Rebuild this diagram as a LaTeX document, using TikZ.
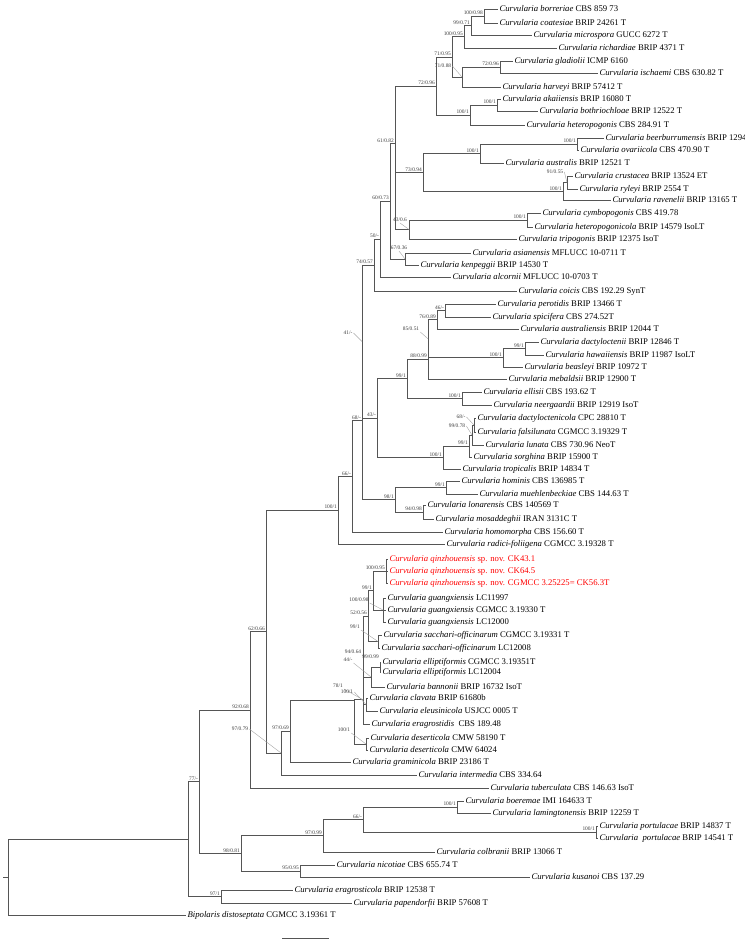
\documentclass[tikz,border=0pt]{standalone}
\usepackage{fontspec}
\setmainfont{Liberation Serif}
\tikzset{every picture/.style={line width=0.75pt}}
\tikzset{
  branch/.style={draw={rgb, 255:red, 85; green, 85; blue, 85}, line width=0.7pt},
  leader/.style={draw={rgb, 255:red, 165; green, 165; blue, 165}, line width=0.4pt},
  leaf/.style={anchor=west, inner sep=1.2pt, font=\fontsize{8.7}{10}\selectfont},
  newsp/.style={leaf, text={rgb, 255:red, 255; green, 0; blue, 0}},
  sup/.style={anchor=south east, inner sep=0.8pt, font=\fontsize{5.4}{5.4}\selectfont, text={rgb, 255:red, 60; green, 60; blue, 60}},
  suplead/.style={sup, anchor=center},
}

\begin{document}
\begin{tikzpicture}[x=1pt,y=1pt,yscale=-1,xscale=1]
\useasboundingbox (0,0) rectangle (744,944);

% Internal nodes
\coordinate (n1) at (484,16);
\coordinate (n2) at (471,25.5);
\coordinate (n3) at (464,36.75);
\coordinate (n4) at (500,67);
\coordinate (n5) at (462,77);
\coordinate (n6) at (452,56.9);
\coordinate (n7) at (497,105);
\coordinate (n8) at (470,115);
\coordinate (n9) at (436,85.9);
\coordinate (n10) at (577,144);
\coordinate (n11) at (480,153.5);
\coordinate (n12) at (567,182.5);
\coordinate (n13) at (563,191.25);
\coordinate (n14) at (423,172.4);
\coordinate (n15) at (527,220);
\coordinate (n16) at (409,229.5);
\coordinate (n17) at (395,201);
\coordinate (n18) at (395,143.4);
\coordinate (n19) at (405,259);
\coordinate (n20) at (390,201.2);
\coordinate (n21) at (380,239.1);
\coordinate (n22) at (374,265);
\coordinate (n23) at (445,310.5);
\coordinate (n24) at (437,319.75);
\coordinate (n25) at (525,348.5);
\coordinate (n26) at (503,357.75);
\coordinate (n27) at (428,338.75);
\coordinate (n28) at (428,358.9);
\coordinate (n29) at (462,398.5);
\coordinate (n30) at (407,378.7);
\coordinate (n31) at (474,425);
\coordinate (n32) at (472,435);
\coordinate (n33) at (469,446);
\coordinate (n34) at (443,457.5);
\coordinate (n35) at (377,418.1);
\coordinate (n36) at (362,341.5);
\coordinate (n37) at (446,487.5);
\coordinate (n38) at (423,512);
\coordinate (n39) at (395,499.75);
\coordinate (n40) at (362,420.6);
\coordinate (n41) at (352,476.3);
\coordinate (n42) at (338,510.2);
\coordinate (q0) at (386,571);
\coordinate (g0) at (383,610);
\coordinate (n43) at (373,590.5);
\coordinate (s0) at (378,641.5);
\coordinate (n44) at (368,616);
\coordinate (e0) at (380,667);
\coordinate (n45) at (371,677);
\coordinate (n46) at (363,646.5);
\coordinate (c0) at (366,704.5);
\coordinate (n47) at (363,675.4);
\coordinate (nE) at (363,699.7);
\coordinate (d0) at (366,744);
\coordinate (nK) at (354,700);
\coordinate (n48) at (290,731);
\coordinate (n49) at (281,753);
\coordinate (n62) at (266,631.8);
\coordinate (n92) at (250,710);
\coordinate (bl) at (457,807);
\coordinate (pt) at (596,832);
\coordinate (n50) at (363,819.5);
\coordinate (n51) at (323,835.75);
\coordinate (n52) at (300,871);
\coordinate (n53) at (241,853.4);
\coordinate (n77) at (199,781.7);
\coordinate (n54) at (221,896.5);
\coordinate (crown) at (188,839.1);
\coordinate (root) at (8,877);
\coordinate (stub) at (3,877);

% Text Node
\node[leaf] (borreriae) at (498,9) {\textit{Curvularia borreriae} CBS 859 73};
\node[leaf] (coatesiae) at (498,23) {\textit{Curvularia coatesiae} BRIP 24261 T};
\node[leaf] (microspora) at (532,35) {\textit{Curvularia microspora} GUCC 6272 T};
\node[leaf] (richardiae) at (557,48) {\textit{Curvularia richardiae} BRIP 4371 T};
\node[leaf] (gladiolii) at (513,61) {\textit{Curvularia gladiolii} ICMP 6160};
\node[leaf] (ischaemi) at (598,73) {\textit{Curvularia ischaemi} CBS 630.82 T};
\node[leaf] (harveyi) at (501,87) {\textit{Curvularia harveyi} BRIP 57412 T};
\node[leaf] (akaiiensis) at (501,99) {\textit{Curvularia akaiiensis} BRIP 16080 T};
\node[leaf] (bothriochloae) at (538,111) {\textit{Curvularia bothriochloae} BRIP 12522 T};
\node[leaf] (heteropogonis) at (525,125) {\textit{Curvularia heteropogonis} CBS 284.91 T};
\node[leaf] (beerburrumensis) at (604,138) {\textit{Curvularia beerburrumensis} BRIP 12942};
\node[leaf] (ovariicola) at (579,150) {\textit{Curvularia ovariicola} CBS 470.90 T};
\node[leaf] (australis) at (504,163) {\textit{Curvularia australis} BRIP 12521 T};
\node[leaf] (crustacea) at (573,176) {\textit{Curvularia crustacea} BRIP 13524 ET};
\node[leaf] (ryleyi) at (578,189) {\textit{Curvularia ryleyi} BRIP 2554 T};
\node[leaf] (ravenelii) at (611,200) {\textit{Curvularia ravenelii} BRIP 13165 T};
\node[leaf] (cymbopogonis) at (541,213) {\textit{Curvularia cymbopogonis} CBS 419.78};
\node[leaf] (heteropogonicola) at (533,227) {\textit{Curvularia heteropogonicola} BRIP 14579 IsoLT};
\node[leaf] (tripogonis) at (517,239) {\textit{Curvularia tripogonis} BRIP 12375 IsoT};
\node[leaf] (asianensis) at (471,253) {\textit{Curvularia asianensis} MFLUCC 10-0711 T};
\node[leaf] (kenpeggii) at (419,265) {\textit{Curvularia kenpeggii} BRIP 14530 T};
\node[leaf] (alcornii) at (451,277) {\textit{Curvularia alcornii} MFLUCC 10-0703 T};
\node[leaf] (coicis) at (517,291) {\textit{Curvularia coicis} CBS 192.29 SynT};
\node[leaf] (perotidis) at (496,304) {\textit{Curvularia perotidis} BRIP 13466 T};
\node[leaf] (spicifera) at (491,317) {\textit{Curvularia spicifera} CBS 274.52T};
\node[leaf] (australiensis) at (519,329) {\textit{Curvularia australiensis} BRIP 12044 T};
\node[leaf] (dactyloctenii) at (539,342) {\textit{Curvularia dactyloctenii} BRIP 12846 T};
\node[leaf] (hawaiiensis) at (544,355) {\textit{Curvularia hawaiiensis} BRIP 11987 IsoLT};
\node[leaf] (beasleyi) at (523,367) {\textit{Curvularia beasleyi} BRIP 10972 T};
\node[leaf] (mebaldsii) at (507,379) {\textit{Curvularia mebaldsii} BRIP 12900 T};
\node[leaf] (ellisii) at (482,392) {\textit{Curvularia ellisii} CBS 193.62 T};
\node[leaf] (neergaardii) at (492,405) {\textit{Curvularia neergaardii} BRIP 12919 IsoT};
\node[leaf] (dactyloctenicola) at (476,418) {\textit{Curvularia dactyloctenicola} CPC 28810 T};
\node[leaf] (falsilunata) at (476,432) {\textit{Curvularia falsilunata} CGMCC 3.19329 T};
\node[leaf] (lunata) at (484,445) {\textit{Curvularia lunata} CBS 730.96 NeoT};
\node[leaf] (sorghina) at (472,457) {\textit{Curvularia sorghina} BRIP 15900 T};
\node[leaf] (tropicalis) at (461,469) {\textit{Curvularia tropicalis} BRIP 14834 T};
\node[leaf] (hominis) at (460,481) {\textit{Curvularia hominis} CBS 136985 T};
\node[leaf] (muehlenbeckiae) at (478,494) {\textit{Curvularia muehlenbeckiae} CBS 144.63 T};
\node[leaf] (lonarensis) at (426,505) {\textit{Curvularia lonarensis} CBS 140569 T};
\node[leaf] (mosaddeghii) at (434,519) {\textit{Curvularia mosaddeghii} IRAN 3131C T};
\node[leaf] (homomorpha) at (443,532) {\textit{Curvularia homomorpha} CBS 156.60 T};
\node[leaf] (radici) at (445,544) {\textit{Curvularia radici-foliigena} CGMCC 3.19328 T};
\node[newsp] (qinzA) at (388,559) {\textit{Curvularia qinzhouensis} sp. nov. CK43.1};
\node[newsp] (qinzB) at (388,571) {\textit{Curvularia qinzhouensis} sp. nov. CK64.5};
\node[newsp] (qinzC) at (388,583) {\textit{Curvularia qinzhouensis} sp. nov. CGMCC 3.25225= CK56.3T};
\node[leaf] (guangA) at (386,598) {\textit{Curvularia guangxiensis} LC11997};
\node[leaf] (guangB) at (386,610) {\textit{Curvularia guangxiensis} CGMCC 3.19330 T};
\node[leaf] (guangC) at (386,622) {\textit{Curvularia guangxiensis} LC12000};
\node[leaf] (sacchA) at (382,635) {\textit{Curvularia sacchari-officinarum} CGMCC 3.19331 T};
\node[leaf] (sacchB) at (380,648) {\textit{Curvularia sacchari-officinarum} LC12008};
\node[leaf] (elliptA) at (381,662) {\textit{Curvularia elliptiformis} CGMCC 3.19351T};
\node[leaf] (elliptB) at (381,672) {\textit{Curvularia elliptiformis} LC12004};
\node[leaf] (bannonii) at (385,687) {\textit{Curvularia bannonii} BRIP 16732 IsoT};
\node[leaf] (clavata) at (368,698) {\textit{Curvularia clavata} BRIP 61680b};
\node[leaf] (eleusinicola) at (378,711) {\textit{Curvularia eleusinicola} USJCC 0005 T};
\node[leaf] (eragrostidis) at (370,724) {\textit{Curvularia eragrostidis}\ \ CBS 189.48};
\node[leaf] (desertA) at (369,738) {\textit{Curvularia deserticola} CMW 58190 T};
\node[leaf] (desertB) at (368,750) {\textit{Curvularia deserticola} CMW 64024};
\node[leaf] (graminicola) at (351,762) {\textit{Curvularia graminicola} BRIP 23186 T};
\node[leaf] (intermedia) at (417,775) {\textit{Curvularia intermedia} CBS 334.64};
\node[leaf] (tuberculata) at (489,788) {\textit{Curvularia tuberculata} CBS 146.63 IsoT};
\node[leaf] (boeremae) at (464,801) {\textit{Curvularia boeremae} IMI 164633 T};
\node[leaf] (lamingtonensis) at (491,813) {\textit{Curvularia lamingtonensis} BRIP 12259 T};
\node[leaf] (portA) at (598,826) {\textit{Curvularia portulacae} BRIP 14837 T};
\node[leaf] (portB) at (598,838) {\textit{Curvularia\ \ portulacae} BRIP 14541 T};
\node[leaf] (colbranii) at (435,852) {\textit{Curvularia colbranii} BRIP 13066 T};
\node[leaf] (nicotiae) at (335,865) {\textit{Curvularia nicotiae} CBS 655.74 T};
\node[leaf] (kusanoi) at (530,877) {\textit{Curvularia kusanoi} CBS 137.29};
\node[leaf] (eragrosticola) at (293,890) {\textit{Curvularia eragrosticola} BRIP 12538 T};
\node[leaf] (papendorfii) at (352,903) {\textit{Curvularia papendorfii} BRIP 57608 T};
\node[leaf] (bipolaris) at (186,915) {\textit{Bipolaris distoseptata} CGMCC 3.19361 T};

% Branches
\draw[branch] (n1) |- (borreriae.west);
\draw[branch] (n1) |- (coatesiae.west);
\draw[branch] (n2) |- (n1);
\draw[branch] (n2) |- (microspora.west);
\draw[branch] (n3) |- (n2);
\draw[branch] (n3) |- (richardiae.west);
\draw[branch] (n4) |- (gladiolii.west);
\draw[branch] (n4) |- (ischaemi.west);
\draw[branch] (n5) |- (n4);
\draw[branch] (n5) |- (harveyi.west);
\draw[branch] (n6) |- (n3);
\draw[branch] (n6) |- (n5);
\draw[branch] (n7) |- (akaiiensis.west);
\draw[branch] (n7) |- (bothriochloae.west);
\draw[branch] (n8) |- (n7);
\draw[branch] (n8) |- (heteropogonis.west);
\draw[branch] (n9) |- (n6);
\draw[branch] (n9) |- (n8);
\draw[branch] (n10) |- (beerburrumensis.west);
\draw[branch] (n10) |- (ovariicola.west);
\draw[branch] (n11) |- (n10);
\draw[branch] (n11) |- (australis.west);
\draw[branch] (n12) |- (crustacea.west);
\draw[branch] (n12) |- (ryleyi.west);
\draw[branch] (n13) |- (n12);
\draw[branch] (n13) |- (ravenelii.west);
\draw[branch] (n14) |- (n11);
\draw[branch] (n14) |- (n13);
\draw[branch] (n15) |- (cymbopogonis.west);
\draw[branch] (n15) |- (heteropogonicola.west);
\draw[branch] (n16) |- (n15);
\draw[branch] (n16) |- (tripogonis.west);
\draw[branch] (n17) |- (n14);
\draw[branch] (n17) |- (n16);
\draw[branch] (n18) |- (n9);
\draw[branch] (n18) |- (n17);
\draw[branch] (n19) |- (asianensis.west);
\draw[branch] (n19) |- (kenpeggii.west);
\draw[branch] (n20) |- (n18);
\draw[branch] (n20) |- (n19);
\draw[branch] (n21) |- (n20);
\draw[branch] (n21) |- (alcornii.west);
\draw[branch] (n22) |- (n21);
\draw[branch] (n22) |- (coicis.west);
\draw[branch] (n23) |- (perotidis.west);
\draw[branch] (n23) |- (spicifera.west);
\draw[branch] (n24) |- (n23);
\draw[branch] (n24) |- (australiensis.west);
\draw[branch] (n25) |- (dactyloctenii.west);
\draw[branch] (n25) |- (hawaiiensis.west);
\draw[branch] (n26) |- (n25);
\draw[branch] (n26) |- (beasleyi.west);
\draw[branch] (n27) |- (n24);
\draw[branch] (n27) |- (n26);
\draw[branch] (n28) |- (n27);
\draw[branch] (n28) |- (mebaldsii.west);
\draw[branch] (n29) |- (ellisii.west);
\draw[branch] (n29) |- (neergaardii.west);
\draw[branch] (n30) |- (n28);
\draw[branch] (n30) |- (n29);
\draw[branch] (n31) |- (dactyloctenicola.west);
\draw[branch] (n31) |- (falsilunata.west);
\draw[branch] (n32) |- (n31);
\draw[branch] (n32) |- (lunata.west);
\draw[branch] (n33) |- (n32);
\draw[branch] (n33) |- (sorghina.west);
\draw[branch] (n34) |- (n33);
\draw[branch] (n34) |- (tropicalis.west);
\draw[branch] (n35) |- (n30);
\draw[branch] (n35) |- (n34);
\draw[branch] (n36) |- (n22);
\draw[branch] (n36) |- (n35);
\draw[branch] (n37) |- (hominis.west);
\draw[branch] (n37) |- (muehlenbeckiae.west);
\draw[branch] (n38) |- (lonarensis.west);
\draw[branch] (n38) |- (mosaddeghii.west);
\draw[branch] (n39) |- (n37);
\draw[branch] (n39) |- (n38);
\draw[branch] (n40) |- (n36);
\draw[branch] (n40) |- (n39);
\draw[branch] (n41) |- (n40);
\draw[branch] (n41) |- (homomorpha.west);
\draw[branch] (n42) |- (n41);
\draw[branch] (n42) |- (radici.west);
\draw[branch] (q0) |- (qinzA.west);
\draw[branch] (q0) |- (qinzB.west);
\draw[branch] (q0) |- (qinzC.west);
\draw[branch] (g0) |- (guangA.west);
\draw[branch] (g0) |- (guangB.west);
\draw[branch] (g0) |- (guangC.west);
\draw[branch] (n43) |- (q0);
\draw[branch] (n43) |- (g0);
\draw[branch] (s0) |- (sacchA.west);
\draw[branch] (s0) |- (sacchB.west);
\draw[branch] (n44) |- (n43);
\draw[branch] (n44) |- (s0);
\draw[branch] (e0) |- (elliptA.west);
\draw[branch] (e0) |- (elliptB.west);
\draw[branch] (n45) |- (e0);
\draw[branch] (n45) |- (bannonii.west);
\draw[branch] (n46) |- (n44);
\draw[branch] (n46) |- (n45);
\draw[branch] (c0) |- (clavata.west);
\draw[branch] (c0) |- (eleusinicola.west);
\draw[branch] (n47) |- (n46);
\draw[branch] (n47) |- (c0);
\draw[branch] (nE) |- (n47);
\draw[branch] (nE) |- (eragrostidis.west);
\draw[branch] (d0) |- (desertA.west);
\draw[branch] (d0) |- (desertB.west);
\draw[branch] (nK) |- (nE);
\draw[branch] (nK) |- (d0);
\draw[branch] (n48) |- (nK);
\draw[branch] (n48) |- (graminicola.west);
\draw[branch] (n49) |- (n48);
\draw[branch] (n49) |- (intermedia.west);
\draw[branch] (n62) |- (n42);
\draw[branch] (n62) |- (n49);
\draw[branch] (n92) |- (n62);
\draw[branch] (n92) |- (tuberculata.west);
\draw[branch] (bl) |- (boeremae.west);
\draw[branch] (bl) |- (lamingtonensis.west);
\draw[branch] (pt) |- (portA.west);
\draw[branch] (pt) |- (portB.west);
\draw[branch] (n50) |- (bl);
\draw[branch] (n50) |- (pt);
\draw[branch] (n51) |- (n50);
\draw[branch] (n51) |- (colbranii.west);
\draw[branch] (n52) |- (nicotiae.west);
\draw[branch] (n52) |- (kusanoi.west);
\draw[branch] (n53) |- (n51);
\draw[branch] (n53) |- (n52);
\draw[branch] (n77) |- (n92);
\draw[branch] (n77) |- (n53);
\draw[branch] (n54) |- (eragrosticola.west);
\draw[branch] (n54) |- (papendorfii.west);
\draw[branch] (crown) |- (n77);
\draw[branch] (crown) |- (n54);
\draw[branch] (root) |- (crown);
\draw[branch] (root) |- (bipolaris.west);
\draw[branch] (stub) -- (root);

% Support values
\node[sup] (s1) at (n1) {100/0.98};
\node[sup] (s2) at (n2) {99/0.71};
\node[sup] (s3) at (n3) {100/0.95};
\node[sup] (s4) at (n4) {72/0.96};
\node[suplead] (s5) at (443,66) {71/0.88};
\draw[leader] (s5.east) -- (n5);
\node[sup] (s6) at (n6) {71/0.95};
\node[sup] (s7) at (n7) {100/1};
\node[sup] (s8) at (n8) {100/1};
\node[sup] (s9) at (n9) {72/0.96};
\node[sup] (s10) at (n10) {100/1};
\node[sup] (s11) at (n11) {100/1};
\node[suplead] (s12) at (555,172) {91/0.55};
\draw[leader] (s12.east) -- (n12);
\node[sup] (s13) at (n13) {100/1};
\node[sup] (s14) at (n14) {73/0.94};
\node[sup] (s15) at (n15) {100/1};
\node[suplead] (s16) at (400,220) {43/0.6};
\draw[leader] (s16.south) -- (n16);
\node[sup] (s18) at (n18) {61/0.82};
\node[suplead] (s19) at (399,248) {67/0.36};
\draw[leader] (s19.south) -- (n19);
\node[sup] (s20) at (n20) {60/0.73};
\node[sup] (s21) at (n21) {50/-};
\node[sup] (s22) at (n22) {74/0.57};
\node[sup] (s23) at (n23) {46/-};
\node[sup] (s24) at (n24) {76/0.89};
\node[sup] (s25) at (n25) {99/1};
\node[sup] (s26) at (n26) {100/1};
\node[suplead] (s27) at (411,329) {85/0.51};
\draw[leader] (s27.south east) -- (n27);
\node[sup] (s28) at (n28) {88/0.99};
\node[sup] (s29) at (n29) {100/1};
\node[sup] (s30) at (n30) {99/1};
\node[suplead] (s31) at (461,417) {68/-};
\draw[leader] (s31.east) -- (n31);
\node[suplead] (s32) at (457,426) {99/0.78};
\draw[leader] (s32.east) -- (n32);
\node[sup] (s33) at (n33) {99/1};
\node[sup] (s34) at (n34) {100/1};
\node[sup] (s35) at (n35) {43/-};
\node[suplead] (s36) at (348,333) {41/-};
\draw[leader] (s36.east) -- (n36);
\node[sup] (s37) at (n37) {99/1};
\node[sup] (s38) at (n38) {94/0.98};
\node[sup] (s39) at (n39) {98/1};
\node[sup] (s40) at (n40) {68/-};
\node[sup] (s41) at (n41) {66/-};
\node[sup] (s42) at (n42) {100/1};
\node[sup] (sq0) at (q0) {100/0.95};
\node[sup] (s43) at (n43) {99/1};
\node[suplead] (sg0) at (359,600) {100/0.98};
\draw[leader] (sg0.south east) -- (g0);
\node[sup] (s44) at (n44) {52/0.56};
\node[suplead] (ss0) at (355,627) {99/1};
\draw[leader] (ss0.south east) -- (s0);
\node[sup] (se0) at ([yshift=-7pt]e0) {99/0.99};
\node[suplead] (s45) at (348,660) {44/-};
\draw[leader] (s45.south east) -- (n45);
\node[suplead] (s46) at (353,652) {94/0.64};
\node[suplead] (sE) at (338,686) {78/1};
\draw[leader] (sE.south east) -- (nE);
\node[suplead] (sc0) at (347,692) {100/1};
\draw[leader] (sc0.east) -- (c0);
\node[suplead] (sd0) at (344,730) {100/1};
\draw[leader] (sd0.south east) -- (d0);
\node[sup] (s48) at (n48) {97/0.69};
\node[suplead] (s49) at (240,729) {97/0.79};
\draw[leader] (s49.east) -- (n49);
\node[sup] (s62) at (n62) {62/0.66};
\node[sup] (s92) at (n92) {92/0.68};
\node[sup] (sbl) at (bl) {100/1};
\node[sup] (spt) at (pt) {100/1};
\node[sup] (s50) at (n50) {66/-};
\node[sup] (s51) at (n51) {97/0.99};
\node[sup] (s52) at (n52) {95/0.95};
\node[sup] (s53) at (n53) {98/0.81};
\node[sup] (s77) at (n77) {77/-};
\node[sup] (s54) at (n54) {97/1};

% Scale bar
\coordinate (barL) at (282,938);
\coordinate (barR) at (329,938);
\draw[branch] (barL) -- (barR);

\end{tikzpicture}
\end{document}
